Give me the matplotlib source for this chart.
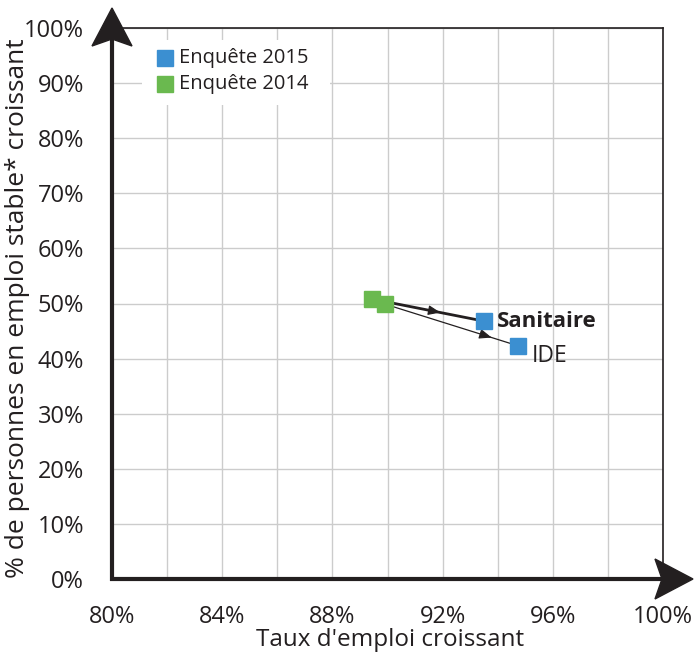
import matplotlib
matplotlib.use("Agg")
import matplotlib.pyplot as plt
from matplotlib.patches import Polygon, FancyArrowPatch, Rectangle
from matplotlib.lines import Line2D

plt.rcParams['font.family'] = ['Open Sans', 'DejaVu Sans']

# Data
categories = ["Sanitaire", "IDE"]
emploi_2014 = [89.45, 89.9]
stable_2014 = [50.8, 49.9]
emploi_2015 = [93.5, 94.75]
stable_2015 = [46.8, 42.3]
series_labels = ["Enquête 2015", "Enquête 2014"]
x_ticks = [80, 84, 88, 92, 96, 100]
y_ticks = [0, 10, 20, 30, 40, 50, 60, 70, 80, 90, 100]

blue = "#3b8fd1"
green = "#6ab94f"
dark = "#231f20"

W, H = 699, 655
fig = plt.figure(figsize=(W / 100, H / 100), dpi=100)
L, R, T, B = 112, 663, 28, 579
ax = fig.add_axes([L / W, (H - B) / H, (R - L) / W, (B - T) / H])
ax.set_xlim(80, 100)
ax.set_ylim(0, 100)

ax.set_xticks(x_ticks)
ax.set_xticklabels([f"{v}%" for v in x_ticks])
ax.set_xticks(list(range(80, 101, 2)), minor=True)
ax.set_yticks(y_ticks)
ax.set_yticklabels([f"{v}%" for v in y_ticks])
ax.grid(True, which='both', color='#cccccc', lw=1.0)
ax.set_axisbelow(True)
ax.tick_params(which='both', length=0, labelsize=17, colors=dark)
ax.tick_params(axis='x', pad=19)
ax.tick_params(axis='y', pad=20)

for s in ['left', 'bottom']:
    ax.spines[s].set_visible(False)
for s in ['top', 'right']:
    ax.spines[s].set_color(dark)
    ax.spines[s].set_linewidth(1.2)

# Thick axes with arrowheads (figure pixel coords -> fractions)
def fx(px):
    return px / W
def fy(py):
    return (H - py) / H

fig.add_artist(Line2D([fx(L), fx(L)], [fy(B + 2), fy(30)], color=dark, lw=3.0,
                      transform=fig.transFigure, solid_capstyle='butt'))
fig.add_artist(Line2D([fx(L - 2), fx(670)], [fy(B), fy(B)], color=dark, lw=3.0,
                      transform=fig.transFigure, solid_capstyle='butt'))
fig.add_artist(Polygon([[fx(L), fy(8)], [fx(L - 20), fy(46)], [fx(L), fy(39)], [fx(L + 20), fy(46)]],
                       closed=True, color=dark, transform=fig.transFigure))
fig.add_artist(Polygon([[fx(693), fy(B)], [fx(655), fy(B - 20)], [fx(662), fy(B)], [fx(655), fy(B + 20)]],
                       closed=True, color=dark, transform=fig.transFigure))

# Lines with arrows
widths = [2.0, 0.9]
arrow_pos = [0.61, 0.80]
for i, c in enumerate(categories):
    x0, y0, x1, y1 = emploi_2014[i], stable_2014[i], emploi_2015[i], stable_2015[i]
    ax.plot([x0, x1], [y0, y1], color=dark, lw=widths[i], zorder=3)
    f = arrow_pos[i]
    xa, ya = x0 + (f - 0.03) * (x1 - x0), y0 + (f - 0.03) * (y1 - y0)
    xb, yb = x0 + f * (x1 - x0), y0 + f * (y1 - y0)
    ax.add_patch(FancyArrowPatch((xa, ya), (xb, yb),
                                 arrowstyle='-|>,head_length=0.75,head_width=0.3',
                                 mutation_scale=10, color=dark, lw=0.8,
                                 shrinkA=0, shrinkB=0, zorder=3))

ax.plot(emploi_2014, stable_2014, 's', color=green, ms=11, mec=green, zorder=4)
ax.plot(emploi_2015, stable_2015, 's', color=blue, ms=11, mec=blue, zorder=4)

ax.text(emploi_2015[0] + 0.47, stable_2015[0], categories[0], fontsize=16, fontweight='bold',
        color=dark, va='center', ha='left', zorder=5)
ax.text(emploi_2015[1] + 0.5, stable_2015[1] - 1.8, categories[1], fontsize=16.5,
        color=dark, va='center', ha='left', zorder=5)

# Legend (white box, no frame)
ax.add_patch(Rectangle((81.1, 86.0), 6.8, 11.8, facecolor='white', edgecolor='none', zorder=2))
leg_colors = [blue, green]
leg_y = [94.6, 89.8]
for lab, col, yy in zip(series_labels, leg_colors, leg_y):
    ax.plot([81.92], [yy], 's', color=col, ms=12, mec=col, zorder=5)
    ax.text(82.42, yy, lab, fontsize=14.5, color=dark, va='center', ha='left', zorder=5)

fig.text(fx(390), fy(640), "Taux d'emploi croissant", fontsize=17.5, color=dark,
         ha='center', va='center')
fig.text(fx(18), fy(308), "% de personnes en emploi stable* croissant", fontsize=19,
         color=dark, ha='center', va='center', rotation=90)

fig.savefig("out.png", dpi=100)
